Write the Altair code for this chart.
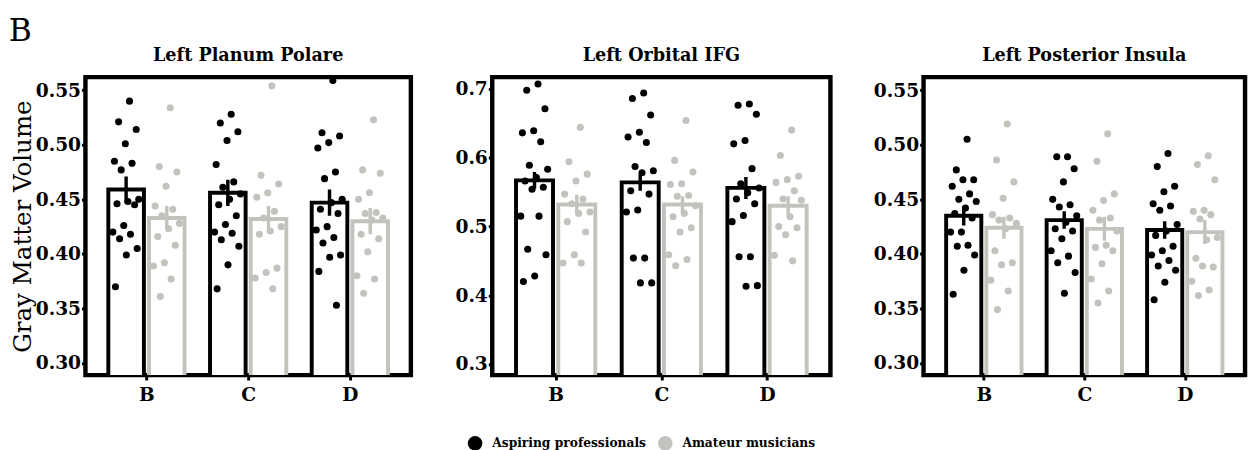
import altair as alt
import pandas as pd

regions = ["Left Planum Polare", "Left Orbital IFG", "Left Posterior Insula"]
conditions = ["B", "C", "D"]
groups = ["Aspiring professionals", "Amateur musicians"]

# ---- bar heights (group means) and standard errors, per condition B, C, D ----
pp_mean_pro = [0.459, 0.456, 0.447]
pp_mean_ama = [0.433, 0.432, 0.430]
pp_se_pro = [0.012, 0.012, 0.012]
pp_se_ama = [0.011, 0.012, 0.012]

ifg_mean_pro = [0.567, 0.564, 0.556]
ifg_mean_ama = [0.532, 0.532, 0.530]
ifg_se_pro = [0.012, 0.012, 0.016]
ifg_se_ama = [0.014, 0.012, 0.014]

ins_mean_pro = [0.435, 0.431, 0.422]
ins_mean_ama = [0.424, 0.423, 0.420]
ins_se_pro = [0.009, 0.008, 0.008]
ins_se_ama = [0.010, 0.011, 0.011]

# ---- individual participants ----
pp_pro_B = [0.540, 0.521, 0.514, 0.501, 0.485, 0.483, 0.477, 0.450, 0.448, 0.446, 0.445, 0.426, 0.420, 0.418, 0.414, 0.405, 0.399, 0.370]
pp_ama_B = [0.534, 0.480, 0.475, 0.462, 0.444, 0.441, 0.435, 0.428, 0.423, 0.416, 0.408, 0.392, 0.389, 0.377, 0.361]
pp_pro_C = [0.528, 0.520, 0.512, 0.504, 0.482, 0.466, 0.461, 0.455, 0.450, 0.445, 0.435, 0.427, 0.420, 0.419, 0.413, 0.407, 0.390, 0.368]
pp_ama_C = [0.554, 0.472, 0.464, 0.456, 0.452, 0.439, 0.433, 0.425, 0.421, 0.418, 0.387, 0.383, 0.378, 0.368]
pp_pro_D = [0.559, 0.511, 0.508, 0.502, 0.497, 0.475, 0.469, 0.450, 0.447, 0.441, 0.437, 0.425, 0.422, 0.415, 0.410, 0.399, 0.397, 0.384, 0.353]
pp_ama_D = [0.523, 0.477, 0.474, 0.456, 0.450, 0.438, 0.437, 0.433, 0.431, 0.418, 0.414, 0.402, 0.380, 0.377, 0.364]

ifg_pro_B = [0.707, 0.698, 0.671, 0.639, 0.636, 0.623, 0.589, 0.583, 0.571, 0.566, 0.557, 0.554, 0.515, 0.515, 0.467, 0.459, 0.428, 0.420]
ifg_ama_B = [0.644, 0.594, 0.576, 0.566, 0.547, 0.540, 0.533, 0.521, 0.519, 0.507, 0.492, 0.459, 0.447, 0.447]
ifg_pro_C = [0.694, 0.686, 0.662, 0.637, 0.630, 0.622, 0.587, 0.581, 0.578, 0.552, 0.547, 0.524, 0.521, 0.454, 0.454, 0.418, 0.418]
ifg_ama_C = [0.654, 0.596, 0.579, 0.562, 0.561, 0.545, 0.544, 0.530, 0.519, 0.514, 0.498, 0.492, 0.459, 0.452, 0.443]
ifg_pro_D = [0.678, 0.676, 0.663, 0.625, 0.620, 0.584, 0.562, 0.556, 0.549, 0.540, 0.533, 0.516, 0.507, 0.456, 0.456, 0.414, 0.413]
ifg_ama_D = [0.640, 0.603, 0.573, 0.568, 0.564, 0.552, 0.540, 0.538, 0.514, 0.500, 0.498, 0.488, 0.458, 0.450]

ins_pro_B = [0.505, 0.477, 0.468, 0.468, 0.462, 0.455, 0.450, 0.448, 0.442, 0.437, 0.433, 0.420, 0.420, 0.408, 0.407, 0.399, 0.385, 0.363]
ins_ama_B = [0.519, 0.486, 0.466, 0.451, 0.436, 0.433, 0.431, 0.428, 0.423, 0.403, 0.392, 0.390, 0.376, 0.366, 0.349]
ins_pro_C = [0.489, 0.489, 0.478, 0.466, 0.450, 0.445, 0.443, 0.435, 0.429, 0.423, 0.421, 0.414, 0.403, 0.398, 0.392, 0.383, 0.364]
ins_ama_C = [0.510, 0.485, 0.455, 0.449, 0.440, 0.433, 0.431, 0.421, 0.408, 0.406, 0.403, 0.391, 0.377, 0.366, 0.355]
ins_pro_D = [0.492, 0.480, 0.462, 0.457, 0.446, 0.444, 0.440, 0.427, 0.421, 0.417, 0.407, 0.403, 0.399, 0.394, 0.389, 0.385, 0.374, 0.358]
ins_ama_D = [0.490, 0.482, 0.468, 0.440, 0.439, 0.436, 0.432, 0.415, 0.413, 0.396, 0.388, 0.389, 0.375, 0.367, 0.362]

# ---- axes ----
y_domains = [[0.289, 0.562], [0.284, 0.717], [0.289, 0.562]]
y_ticks = [[0.30, 0.35, 0.40, 0.45, 0.50, 0.55],
           [0.3, 0.4, 0.5, 0.6, 0.7],
           [0.30, 0.35, 0.40, 0.45, 0.50, 0.55]]
y_formats = [".2f", ".1f", ".2f"]
y_title = "Gray Matter Volume"

panel_means = [
    [pp_mean_pro, pp_mean_ama],
    [ifg_mean_pro, ifg_mean_ama],
    [ins_mean_pro, ins_mean_ama],
]
panel_se = [
    [pp_se_pro, pp_se_ama],
    [ifg_se_pro, ifg_se_ama],
    [ins_se_pro, ins_se_ama],
]
panel_points = [
    [[pp_pro_B, pp_pro_C, pp_pro_D], [pp_ama_B, pp_ama_C, pp_ama_D]],
    [[ifg_pro_B, ifg_pro_C, ifg_pro_D], [ifg_ama_B, ifg_ama_C, ifg_ama_D]],
    [[ins_pro_B, ins_pro_C, ins_pro_D], [ins_ama_B, ins_ama_C, ins_ama_D]],
]

FONT = "DejaVu Serif"
BLACK = "#000000"
GREY = "#c3c3be"
color_scale = alt.Scale(domain=groups, range=[BLACK, GREY])
label_expr = "[" + ",".join("'%s'" % c for c in conditions) + "][datum.value - 1]"
panel_widths = [332, 345, 328]
axis_extent = [51, 40, 52]
H = 304
legend = alt.Legend(title=None, orient="none", direction="horizontal",
                    legendX=390, legendY=366)


def panel(ri):
    bar_rows, pt_rows = [], []
    for gi, g in enumerate(groups):
        for ci, c in enumerate(conditions):
            bar_rows.append(dict(cond=c, idx=ci + 1, group=g, gi=gi,
                                 mean=panel_means[ri][gi][ci], se=panel_se[ri][gi][ci]))
            for k, v in enumerate(panel_points[ri][gi][ci]):
                pt_rows.append(dict(cond=c, idx=ci + 1, group=g, gi=gi, k=k + 1, value=v))
    bars = pd.DataFrame(bar_rows)
    pts = pd.DataFrame(pt_rows)

    xsc = alt.Scale(domain=[0.4, 3.6], nice=False, zero=False)
    ysc = alt.Scale(domain=y_domains[ri], nice=False, zero=False)
    xaxis = alt.Axis(values=[1, 2, 3], labelExpr=label_expr, grid=False, domain=False,
                     tickSize=5, tickWidth=3, tickColor=BLACK, labelFont=FONT, labelFontSize=19,
                     labelFontWeight="bold", labelColor=BLACK, labelPadding=6)
    yaxis_kw = dict(values=y_ticks[ri], format=y_formats[ri], grid=False, domain=False,
                    tickSize=4, tickWidth=3, tickColor=BLACK, labelFont=FONT, labelFontSize=19,
                    labelFontWeight="bold", labelColor=BLACK, labelPadding=1,
                    minExtent=axis_extent[ri], maxExtent=axis_extent[ri])
    if ri == 0:
        yaxis = alt.Axis(title=y_title, titleFont=FONT, titleFontSize=25,
                         titleFontWeight="normal", titleColor=BLACK, titlePadding=0, **yaxis_kw)
    else:
        yaxis = alt.Axis(title=None, **yaxis_kw)

    bar = alt.Chart(bars).transform_calculate(
        xlo="datum.idx + (datum.gi == 0 ? -0.375 : 0.025)",
        xhi="datum.idx + (datum.gi == 0 ? -0.025 : 0.375)",
    ).mark_bar(fill="white", strokeWidth=4, clip=True).encode(
        x=alt.X("xlo:Q", scale=xsc, axis=xaxis, title=None),
        x2="xhi:Q",
        y=alt.Y("mean:Q", scale=ysc, axis=yaxis),
        y2=alt.datum(0),
        stroke=alt.Stroke("group:N", scale=color_scale, legend=legend),
    )
    err = alt.Chart(bars).transform_calculate(
        xc="datum.idx + (datum.gi == 0 ? -0.2 : 0.2)",
        lo="datum.mean - datum.se",
        hi="datum.mean + datum.se",
    ).mark_rule(strokeWidth=3.5, clip=True).encode(
        x="xc:Q", y="lo:Q", y2="hi:Q",
        stroke=alt.Stroke("group:N", scale=color_scale, legend=legend),
    )
    dots = alt.Chart(pts).transform_calculate(
        xj="datum.idx + (datum.gi == 0 ? -0.2 : 0.2) + (((datum.k * 0.618034) % 1) - 0.5) * 0.28"
    ).mark_circle(size=52, opacity=1, clip=True).encode(
        x="xj:Q", y="value:Q",
        fill=alt.Fill("group:N", scale=color_scale, legend=legend),
    )
    return alt.layer(bar, err, dots).properties(
        width=panel_widths[ri], height=H,
        title=alt.TitleParams(regions[ri], fontSize=18, fontWeight="bold", font=FONT,
                              color=BLACK, anchor="middle", frame="group", offset=12),
    )


chart = alt.hconcat(panel(0), panel(1), panel(2), spacing=37).properties(
    title=alt.TitleParams("B", anchor="start", fontSize=32, fontWeight="normal",
                          font=FONT, color=BLACK, offset=-2),
    padding={"left": 0, "top": 2, "right": 0, "bottom": 0},
    background="white",
).configure_view(stroke=BLACK, strokeWidth=4.5).configure_legend(
    labelFont=FONT, labelFontSize=12.5, labelFontWeight="bold", labelColor=BLACK,
    symbolType="circle", symbolSize=220, symbolStrokeWidth=0,
    columnPadding=12, labelOffset=10, padding=0,
)

chart.save("out.html", embed_options={"renderer": "svg", "actions": False})
